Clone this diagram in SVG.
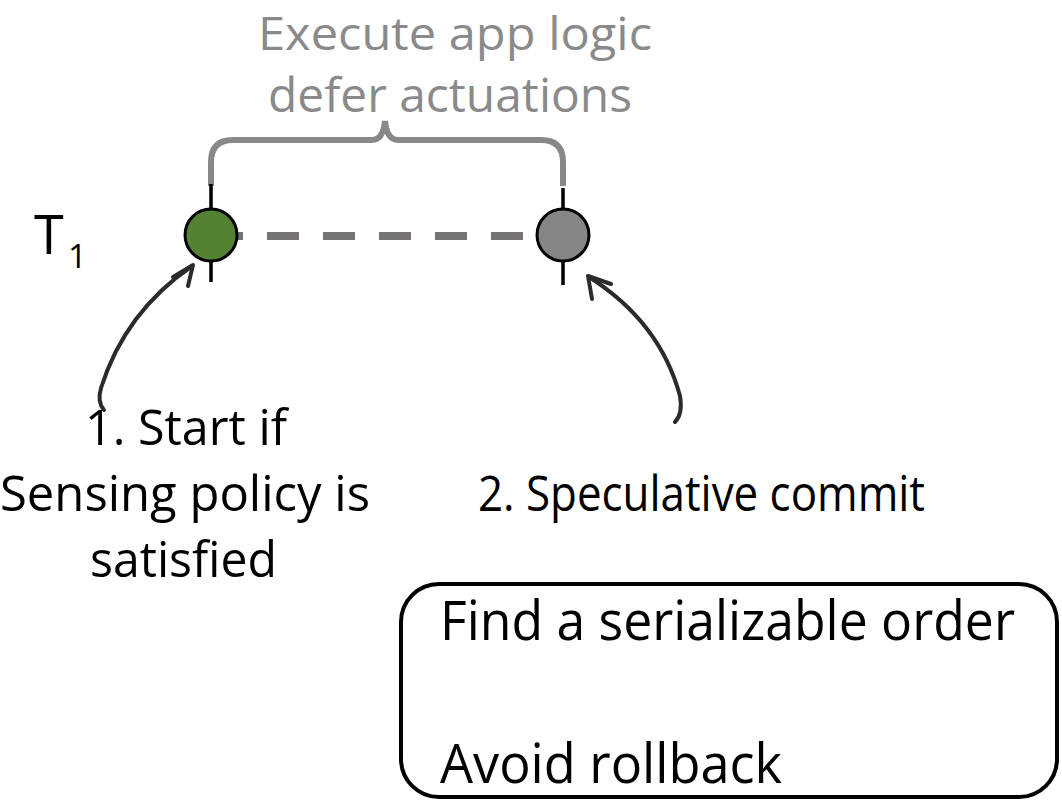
<svg xmlns="http://www.w3.org/2000/svg" width="1062" height="801" viewBox="0 0 1062 801">
  <style>
    .txt { font-family: "Open Sans", "Liberation Sans", sans-serif; fill: #000; }
    .gray { fill: #8a8a8a; }
    .tick { stroke: #000; stroke-width: 3.5; fill: none; }
    .node { stroke: #000; stroke-width: 3; }
    .hand { stroke: #2b2b2b; stroke-width: 4; fill: none; stroke-linecap: round; stroke-linejoin: round; }
  </style>
  <rect width="1062" height="801" fill="#fff"/>

  <!-- brace over the transaction span -->
  <g id="brace">
    <path d="M211,186 V162 Q211,140 233,140 H372 Q383,140 385,121 Q387,140 398,140 H541 Q563,140 563,162 V186" stroke="#888" stroke-width="6" fill="none"/>
    <text class="txt gray" x="258" y="50" font-size="46" textLength="394" lengthAdjust="spacingAndGlyphs">Execute app logic</text>
    <text class="txt gray" x="268" y="112" font-size="48" textLength="364" lengthAdjust="spacingAndGlyphs">defer actuations</text>
  </g>

  <g id="label-t1">
    <text class="txt" x="34" y="254" font-size="54">T</text>
    <text class="txt" x="68" y="268" font-size="33">1</text>
  </g>

  <g id="connectors">
    <line x1="211" y1="236" x2="523" y2="236" stroke="#777272" stroke-width="8" stroke-dasharray="32 24"/>
    <path class="hand" d="M104,410 Q97,402 101,388 Q125,312 192,266"/>
    <path class="hand" d="M173,277 L193,265 L188,286"/>
    <path class="hand" d="M675,422 Q683,414 680,396 Q660,322 589,277"/>
    <path class="hand" d="M611,284 L588,276 L592,299"/>
  </g>

  <g id="start-node">
    <line class="tick" x1="211" y1="184" x2="211" y2="282"/>
    <circle class="node" cx="211" cy="235" r="26" fill="#548235"/>
  </g>

  <g id="commit-node">
    <line class="tick" x1="563" y1="188" x2="563" y2="285"/>
    <circle class="node" cx="563" cy="235" r="26" fill="#858585"/>
  </g>

  <g id="label-start">
    <text class="txt" x="85" y="445" font-size="50" textLength="202" lengthAdjust="spacingAndGlyphs">1. Start if</text>
    <text class="txt" x="0" y="511" font-size="50" textLength="370" lengthAdjust="spacingAndGlyphs">Sensing policy is</text>
    <text class="txt" x="90" y="577" font-size="50" textLength="187" lengthAdjust="spacingAndGlyphs">satisfied</text>
  </g>

  <g id="label-commit">
    <text class="txt" x="478" y="511" font-size="50" textLength="447" lengthAdjust="spacingAndGlyphs">2. Speculative commit</text>
  </g>

  <g id="goals-box">
    <rect x="401" y="584" width="656" height="213" rx="38" ry="38" fill="none" stroke="#000" stroke-width="4"/>
    <text class="txt" x="440" y="640" font-size="54" textLength="575" lengthAdjust="spacingAndGlyphs">Find a serializable order</text>
    <text class="txt" x="440" y="783" font-size="54" textLength="342" lengthAdjust="spacingAndGlyphs">Avoid rollback</text>
  </g>
</svg>
